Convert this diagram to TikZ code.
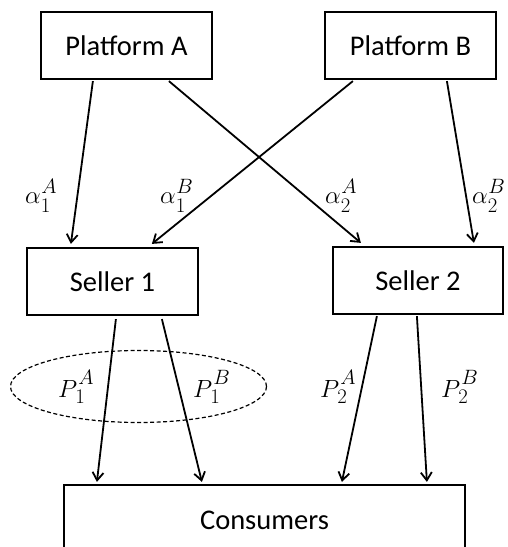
\documentclass[tikz,border=0pt]{standalone}
\usepackage{fontspec}
\setmainfont{Carlito}
\usetikzlibrary{arrows.meta,calc,shapes.geometric}
\newcommand\alab[2]{$\alpha$\rlap{\kern0.5pt\raisebox{10pt}{$\scriptstyle #2$}}\raisebox{-9.5pt}{$\scriptstyle #1$}}
\newcommand\plab[2]{$P$\rlap{\kern1pt\raisebox{13pt}{$\scriptstyle #2$}}\kern-2pt\raisebox{-6pt}{$\scriptstyle #1$}}
\begin{document}
\begin{tikzpicture}[x=1pt,y=1pt,
  box/.style={draw,line width=2.2pt,minimum width=171pt,minimum height=67pt,inner sep=0pt,font=\fontsize{28.5}{32}\selectfont},
  conn/.style={line width=1.8pt,-{Straight Barb[length=8pt,width=11pt,line width=1.8pt]}},
  lbl/.style={inner sep=0pt,anchor=base west,font=\fontsize{28}{32}\selectfont},
  grp/.style={draw,dashed,dash pattern=on 4pt off 2.5pt,line width=1.2pt,ellipse,minimum width=256pt,minimum height=72pt,inner sep=0pt}]
\useasboundingbox (0,0) rectangle (507,-547);
\clip (0,0) rectangle (507,-547);
\node[box] (pa) at (126.5,-45.5) {Platform A};
\node[box] (pb) at (410.5,-45.5) {Platform B};
\node[box] (s1) at (112.5,-281.5) {Seller 1};
\node[box,minimum width=170pt] (s2) at (418,-280.5) {Seller 2};
\node[box,minimum width=401pt,minimum height=70pt] (cons) at (264.5,-520) {Consumers};
\node[grp] (ell) at (138.5,-386.5) {};
\draw[conn] ($(pa.south west)+(53,-1)$) -- ($(s1.north west)+(45,3)$);
\draw[conn] ($(pa.south west)+(129,-1)$) -- ($(s2.north west)+(29,3)$);
\draw[conn] ($(pb.south west)+(29,-1)$) -- ($(s1.north west)+(126,3)$);
\draw[conn] ($(pb.south west)+(123,-1)$) -- ($(s2.north west)+(142,3)$);
\draw[conn] ($(s1.south west)+(90,-3)$) -- ($(cons.north west)+(34,2)$);
\draw[conn] ($(s1.south west)+(136,-3)$) -- ($(cons.north west)+(139,2)$);
\draw[conn] ($(s2.south west)+(45,-1)$) -- ($(cons.north west)+(279,2)$);
\draw[conn] ($(s2.south west)+(85,-1)$) -- ($(cons.north west)+(364,2)$);
\node[lbl] (a1A) at (25,-203) {\alab{1}{A}};
\node[lbl] (a1B) at (160,-203) {\alab{1}{B}};
\node[lbl] (a2A) at (325,-203) {\alab{2}{A}};
\node[lbl] (a2B) at (472,-203) {\alab{2}{B}};
\node[lbl] (p1A) at (58,-397) {\plab{1}{A}};
\node[lbl] (p1B) at (193,-397) {\plab{1}{B}};
\node[lbl] (p2A) at (320,-397) {\plab{2}{A}};
\node[lbl] (p2B) at (441,-397) {\plab{2}{B}};
\end{tikzpicture}
\end{document}
